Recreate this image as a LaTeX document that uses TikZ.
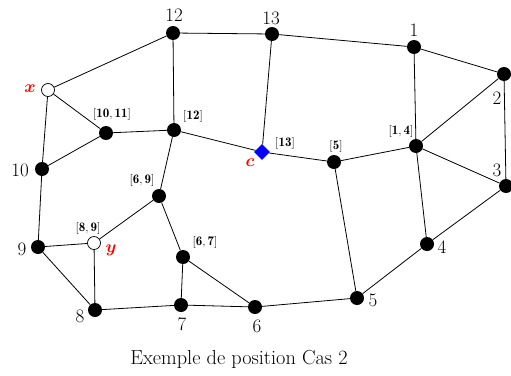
\documentclass[tikz,border=0pt]{standalone}
\usepackage{amsmath,bm}
\usepackage{fontspec}
\usetikzlibrary{shapes.geometric}
\begin{document}
\begin{tikzpicture}[x=1pt,y=-1pt,
  v/.style={circle,fill=black,inner sep=0pt,minimum size=14pt},
  w/.style={circle,draw=black,fill=white,inner sep=0pt,minimum size=13pt,line width=0.7pt},
  cd/.style={diamond,fill=blue,inner sep=0pt,minimum size=16pt},
  e/.style={line width=0.8pt},
  num/.style={font=\fontsize{19}{22}\selectfont,inner sep=0pt},
  br/.style={font=\fontsize{13}{15}\selectfont,inner sep=0pt},
  rl/.style={text=red,font=\fontsize{19}{22}\selectfont,inner sep=0pt}]
\useasboundingbox (0,0) rectangle (511,375);
% vertices
\node[v] (n12) at (173,33) {};
\node[v] (n13) at (272,34) {};
\node[v] (n1) at (414,47) {};
\node[v] (n2) at (504,74) {};
\node[v] (n3) at (506,186) {};
\node[w] (x) at (48,90) {};
\node[v] (n1011) at (106,133) {};
\node[v] (b12) at (174,130) {};
\node[cd] (c) at (262,152) {};
\node[v] (b5) at (334,162) {};
\node[v] (b14) at (416,146) {};
\node[v] (n10) at (42,169) {};
\node[v] (b69) at (159,196) {};
\node[w] (y) at (94,243) {};
\node[v] (n9) at (38,247) {};
\node[v] (b67) at (183,257) {};
\node[v] (n4) at (427,244) {};
\node[v] (n8) at (95,310) {};
\node[v] (n7) at (181,305) {};
\node[v] (n6) at (255,307) {};
\node[v] (n5) at (357,298) {};
% edges
\draw[e] (n12) -- (n13) (n13) -- (n1) (n1) -- (n2) (n2) -- (n3)
  (n1) -- (b14) (n2) -- (b14) (b14) -- (n3) (b14) -- (n4) (n4) -- (n5) (n3) -- (n4)
  (n5) -- (b5) (b5) -- (b14) (c) -- (b5) (c) -- (n13) (b12) -- (c) (b12) -- (n12)
  (n12) -- (x) (x) -- (n1011) (x) -- (n10) (n1011) -- (n10) (n1011) -- (b12)
  (b12) -- (b69) (b69) -- (y) (b69) -- (b67) (b67) -- (n7) (b67) -- (n6)
  (n7) -- (n6) (n8) -- (n7) (n6) -- (n5) (y) -- (n9) (y) -- (n8) (n9) -- (n8) (n10) -- (n9);
% labels
\node[num] (l12) at (174,15) {12};
\node[num] (l13) at (271,18) {13};
\node[num] (l1) at (414,30) {1};
\node[num] (l2) at (497,98) {2};
\node[num] (l3) at (497,170) {3};
\node[num] (l10) at (20,170) {10};
\node[num] (l9) at (22,249) {9};
\node[num] (l4) at (442,247) {4};
\node[num] (l5) at (373,300) {5};
\node[num] (l6) at (257,326) {6};
\node[num] (l7) at (182,324) {7};
\node[num] (l8) at (80,316) {8};
\node[rl] (lx) at (30,89) {$\bm{x}$};
\node[rl] (ly) at (111,250) {$\bm{y}$};
\node[rl] (lc) at (250,163) {$\bm{c}$};
\node[br] (l1011) at (112,114) {$[\mathbf{10,11}]$};
\node[br] (lb12) at (193,116) {$[\mathbf{12}]$};
\node[br] (lb13) at (285,143) {$[\mathbf{13}]$};
\node[br] (lb5) at (336,146) {$[\mathbf{5}]$};
\node[br] (lb14) at (401,131) {$[\mathbf{1,4}]$};
\node[br] (lb69) at (142,180) {$[\mathbf{6,9}]$};
\node[br] (lb89) at (88,228) {$[\mathbf{8,9}]$};
\node[br] (lb67) at (205,242) {$[\mathbf{6,7}]$};
\node[font=\fontsize{20.3}{24}\selectfont,inner sep=0pt] (cap) at (239,359) {Exemple de position Cas 2};
\end{tikzpicture}
\end{document}
